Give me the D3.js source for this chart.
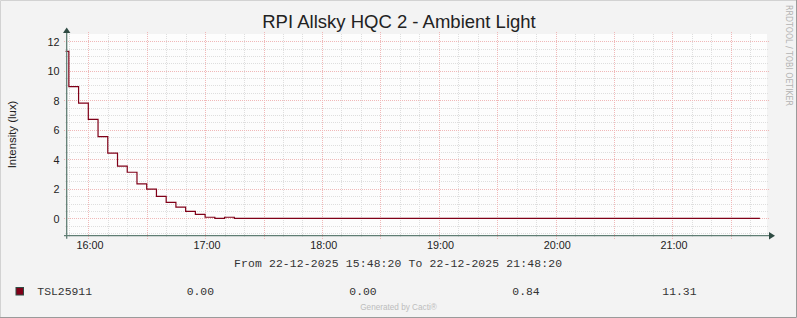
<!DOCTYPE html>
<html>
<head>
<meta charset="utf-8">
<script src="https://cdn.jsdelivr.net/npm/d3@7"></script>
<style>
  html, body { margin: 0; padding: 0; background: #f3f3f3; }
  svg { display: block; }
</style>
</head>
<body>
<div id="chart"></div>
<script>
// Data (5 minute steps, value holds until next step)
const day = '2025-12-22';
const rangeStart = '15:48:20';
const rangeEnd = '21:48:20';
const stepStarts = ['15:48:20', '15:50:00', '15:55:00', '16:00:00', '16:05:00', '16:10:00',
    '16:15:00', '16:20:00', '16:25:00', '16:30:00', '16:35:00', '16:40:00', '16:45:00',
    '16:50:00', '16:55:00', '17:00:00', '17:05:00', '17:10:00', '17:15:00'];
const luxValues = [11.31, 8.92, 7.80, 6.71, 5.53, 4.41,
    3.53, 3.12, 2.33, 1.97, 1.49, 1.08, 0.75,
    0.47, 0.27, 0.07, 0.00, 0.07, 0.00];
const lastSample = '21:45:00';
const yTickValues = [0, 2, 4, 6, 8, 10, 12];
const legendSeries = 'TSL25911';
const legendStats = ['0.00', '0.00', '0.84', '11.31'];

const W = 797, H = 318;
const parse = d3.timeParse('%Y-%m-%d %H:%M:%S');
const t = s => parse(day + ' ' + s);

const lineColor = '#800018';
const axisColor = '#5f7d73';
const arrowColor = '#2f4b43';
const minorGrid = '#dedede';
const majorGrid = '#f0b8b8';

const svg = d3.select('#chart').append('svg')
    .attr('width', W).attr('height', H)
    .attr('font-family', 'Liberation Sans, Arial, sans-serif');

// background + 3D-ish border
svg.append('rect').attr('width', W).attr('height', H).attr('fill', '#f3f3f3');
svg.append('path').attr('d', `M0.5,${H} V0.5 H${W}`).attr('fill', 'none').attr('stroke', '#d2d2d2');
svg.append('path').attr('d', `M0,${H - 0.5} H${W - 0.5} V0`).attr('fill', 'none').attr('stroke', '#9a9a9a');

// Plot area
const plot = { left: 67, right: 767, top: 34, bottom: 235.7 };

const x = d3.scaleTime()
    .domain([t(rangeStart), t(rangeEnd)])
    .range([65.6, 766.4]);

const y = d3.scaleLinear()
    .domain([-1.18, 12.49])
    .range([plot.bottom, plot.top]);

svg.append('rect')
    .attr('x', plot.left).attr('y', plot.top)
    .attr('width', plot.right - plot.left).attr('height', plot.bottom - plot.top)
    .attr('fill', '#fdfdfd');

const grid = svg.append('g').attr('shape-rendering', 'crispEdges');

// minor vertical grid every 10 min, major every 30
const minorX = x.ticks(d3.timeMinute.every(10));
const majorX = x.ticks(d3.timeMinute.every(30));
const isMajorX = d => d.getMinutes() % 30 === 0;

grid.selectAll('line.vminor')
    .data(minorX.filter(d => !isMajorX(d)))
    .join('line')
    .attr('x1', d => Math.round(x(d)) + 0.5).attr('x2', d => Math.round(x(d)) + 0.5)
    .attr('y1', plot.top).attr('y2', plot.bottom + 2)
    .attr('stroke', minorGrid).attr('stroke-dasharray', '1,1');

// minor horizontal grid every 0.5
const minorY = d3.range(-1, 12.01, 0.5).filter(v => v % 2 !== 0);
grid.selectAll('line.hminor')
    .data(minorY)
    .join('line')
    .attr('x1', plot.left - 2).attr('x2', plot.right + 1)
    .attr('y1', d => Math.round(y(d)) + 0.5).attr('y2', d => Math.round(y(d)) + 0.5)
    .attr('stroke', minorGrid).attr('stroke-dasharray', '1,1');

// major grid
grid.selectAll('line.vmajor')
    .data(majorX)
    .join('line')
    .attr('x1', d => Math.round(x(d)) + 0.5).attr('x2', d => Math.round(x(d)) + 0.5)
    .attr('y1', plot.top - 2).attr('y2', plot.bottom + 3)
    .attr('stroke', majorGrid).attr('stroke-dasharray', '1,1');

grid.selectAll('line.hmajor')
    .data(yTickValues)
    .join('line')
    .attr('x1', plot.left - 3).attr('x2', plot.right + 2)
    .attr('y1', d => Math.round(y(d)) + 0.5).attr('y2', d => Math.round(y(d)) + 0.5)
    .attr('stroke', majorGrid).attr('stroke-dasharray', '1,1');

// Series line (step)
const points = stepStarts.map((s, i) => ({ date: t(s), value: luxValues[i] }));
points.push({ date: t(lastSample), value: luxValues[luxValues.length - 1] });

const line = d3.line()
    .x(d => x(d.date))
    .y(d => y(d.value))
    .curve(d3.curveStepAfter);

svg.append('path')
    .datum(points)
    .attr('d', line)
    .attr('fill', 'none')
    .attr('stroke', lineColor)
    .attr('stroke-width', 1.2);

// Axes lines + arrows
const ax = svg.append('g');
ax.append('line')
    .attr('x1', plot.left - 0.3).attr('x2', plot.left - 0.3)
    .attr('y1', plot.bottom + 3).attr('y2', 30)
    .attr('stroke', axisColor).attr('stroke-width', 1.3);
ax.append('path')
    .attr('d', `M${plot.left - 4},${33} L${plot.left - 0.3},${27.5} L${plot.left + 3.4},${33} Z`)
    .attr('fill', arrowColor);
ax.append('line')
    .attr('x1', plot.left - 3).attr('x2', 771)
    .attr('y1', plot.bottom).attr('y2', plot.bottom)
    .attr('stroke', axisColor).attr('stroke-width', 1.3);
ax.append('path')
    .attr('d', `M769,${plot.bottom - 3.7} L775,${plot.bottom} L769,${plot.bottom + 3.7} Z`)
    .attr('fill', arrowColor);

// Y tick labels via axis
const yAxis = svg.append('g')
    .attr('transform', `translate(${59.5},0)`)
    .call(d3.axisLeft(y).tickValues(yTickValues).tickSize(0).tickPadding(0).tickFormat(d3.format('d')));
yAxis.select('.domain').remove();
yAxis.selectAll('text')
    .attr('font-family', 'Liberation Sans, Arial, sans-serif')
    .attr('font-size', '10.8px')
    .attr('fill', '#222')
    .attr('dy', '0.36em');

// X tick labels via axis
const xAxis = svg.append('g')
    .attr('transform', `translate(0,${plot.bottom})`)
    .call(d3.axisBottom(x).ticks(d3.timeHour.every(1)).tickSize(0).tickPadding(0).tickFormat(d3.timeFormat('%H:%M')));
xAxis.select('.domain').remove();
xAxis.selectAll('text')
    .attr('font-family', 'Liberation Sans, Arial, sans-serif')
    .attr('font-size', '10.8px')
    .attr('fill', '#222')
    .attr('y', 13.8)
    .attr('dy', 0)
    .attr('dx', 1.3);

// Title
svg.append('text')
    .attr('x', 399).attr('y', 28)
    .attr('text-anchor', 'middle')
    .attr('font-size', '18.5px')
    .attr('fill', '#222')
    .text('RPI Allsky HQC 2 - Ambient Light');

// Y axis title
svg.append('text')
    .attr('transform', 'translate(15.5,134.5) rotate(-90)')
    .attr('text-anchor', 'middle')
    .attr('font-size', '11.4px')
    .attr('fill', '#222')
    .text('Intensity (lux)');

// Watermark on the right
svg.append('text')
    .attr('transform', 'translate(785.5,5) rotate(90)')
    .attr('font-family', 'DejaVu Sans, sans-serif')
    .attr('font-size', '8px')
    .attr('textLength', 101)
    .attr('lengthAdjust', 'spacingAndGlyphs')
    .attr('fill', '#b4b4b4')
    .text('RRDTOOL / TOBI OETIKER');

// Time range caption
const mono = 'Liberation Mono, Courier New, monospace';
const fmt = d3.timeFormat('%d-%m-%Y %H:%M:%S');
svg.append('text')
    .attr('x', 234).attr('y', 266.5)
    .attr('font-family', mono)
    .attr('font-size', '11.4px')
    .attr('textLength', 328)
    .attr('lengthAdjust', 'spacing')
    .attr('fill', '#333')
    .text(`From ${fmt(t(rangeStart))} To ${fmt(t(rangeEnd))}`);

// Legend row
svg.append('rect')
    .attr('x', 16).attr('y', 287.5)
    .attr('width', 7.5).attr('height', 7.5)
    .attr('fill', lineColor)
    .attr('stroke', '#2f4b43').attr('stroke-width', 1);

svg.append('text')
    .attr('x', 37.3).attr('y', 294.5)
    .attr('font-family', mono).attr('font-size', '11.4px').attr('fill', '#333')
    .text(legendSeries);

const statX = [186.7, 349.3, 512.3, 662.3];
legendStats.forEach((s, i) => {
    svg.append('text')
        .attr('x', statX[i]).attr('y', 294.5)
        .attr('font-family', mono).attr('font-size', '11.4px').attr('fill', '#333')
        .text(s);
});

// Footer
svg.append('text')
    .attr('x', 398.5).attr('y', 310)
    .attr('text-anchor', 'middle')
    .attr('font-size', '8.2px')
    .attr('fill', '#bdbdbd')
    .text('Generated by Cacti®');
</script>
</body>
</html>
